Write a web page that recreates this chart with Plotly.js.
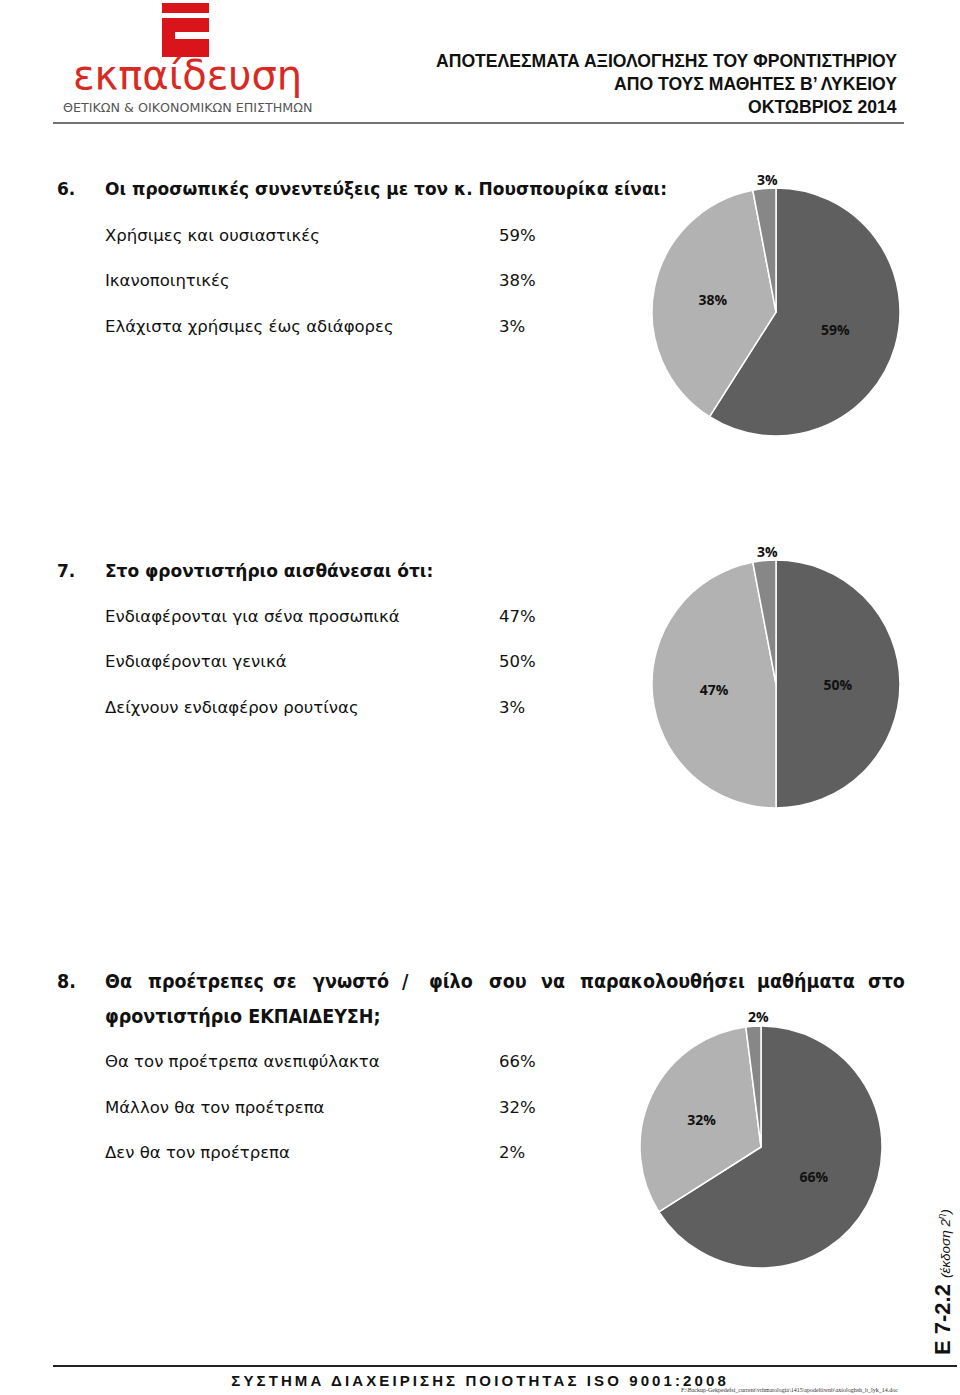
<!DOCTYPE html>
<html>
<head>
<meta charset="utf-8">
<script src="https://cdn.plot.ly/plotly-3.0.1.min.js"></script>
<style>html,body{margin:0;padding:0;background:#fff;}#chart{width:960px;height:1395px;}</style>
</head>
<body>
<div id="chart"></div>
<script>
// ---------- DATA ----------
const headerLines = ["ΑΠΟΤΕΛΕΣΜΑΤΑ ΑΞΙΟΛΟΓΗΣΗΣ ΤΟΥ ΦΡΟΝΤΙΣΤΗΡΙΟΥ", "ΑΠΟ ΤΟΥΣ ΜΑΘΗΤΕΣ Β’ ΛΥΚΕΙΟΥ", "ΟΚΤΩΒΡΙΟΣ 2014"];

const q6Title = "Οι προσωπικές συνεντεύξεις με τον κ. Πουσπουρίκα είναι:";
const q6Labels = ["Χρήσιμες και ουσιαστικές", "Ικανοποιητικές", "Ελάχιστα χρήσιμες έως αδιάφορες"];
const q6Values = [59, 38, 3];

const q7Title = "Στο φροντιστήριο αισθάνεσαι ότι:";
const q7Labels = ["Ενδιαφέρονται για σένα προσωπικά", "Ενδιαφέρονται γενικά", "Δείχνουν ενδιαφέρον ρουτίνας"];
const q7Values = [47, 50, 3];

const q8TitleWords = ["Θα", "προέτρεπες", "σε", "γνωστό", "/", "φίλο", "σου", "να", "παρακολουθήσει", "μαθήματα", "στο"];
const q8TitleLine2 = "φροντιστήριο ΕΚΠΑΙΔΕΥΣΗ;";
const q8Labels = ["Θα τον προέτρεπα ανεπιφύλακτα", "Μάλλον θα τον προέτρεπα", "Δεν θα τον προέτρεπα"];
const q8Values = [66, 32, 2];

// ---------- STYLE / LAYOUT HELPERS ----------
const W = 960, H = 1395;
const DARK = "#5f5f5f", LIGHT = "#b2b2b2", MID = "#878787";
const bodyFont = '"DejaVu Sans", Verdana, sans-serif';
const ann = [];
function txt(x, y, text, opts) {
  ann.push(Object.assign({x: x, y: y, xref: "x", yref: "y", text: text, showarrow: false,
    xanchor: "left", yanchor: "middle", font: {family: bodyFont, size: 16.5, color: "#111"}}, opts || {}));
}
function pieTrace(labels, values, colors, cx, cy, r) {
  return {
    type: "pie", labels: labels, values: values, sort: true, direction: "clockwise", rotation: 0,
    marker: {colors: colors, line: {color: "#fff", width: 1.5}},
    text: values.map(v => v + "%"), textinfo: "text",
    textposition: values.map(v => v >= 10 ? "inside" : "none"),
    insidetextorientation: "horizontal",
    textfont: {family: '"Open Sans", sans-serif', size: 14, color: "#111", weight: "bold"},
    hoverinfo: "label+percent",
    domain: {x: [(cx - r) / W, (cx + r) / W], y: [1 - (cy + r) / H, 1 - (cy - r) / H]},
    showlegend: false
  };
}
function smallLabel(values, x, y) {
  const v = Math.min.apply(null, values);
  txt(x, y, "<b>" + v + "%</b>", {xanchor: "center", font: {family: '"Open Sans", sans-serif', size: 14, color: "#111"}});
}

// ---------- HEADER ----------
headerLines.forEach((t, i) => txt(899, 61 + i * 23, "<b>" + t + "</b>",
  {xanchor: "right", font: {family: '"Liberation Sans", Arial, sans-serif', size: 17.6, color: "#111"}}));
txt(187, 75, "εκπαίδευση", {xanchor: "center", font: {family: bodyFont, size: 40, color: "#d82a22"}});
txt(187, 107, "ΘΕΤΙΚΩΝ &amp; ΟΙΚΟΝΟΜΙΚΩΝ ΕΠΙΣΤΗΜΩΝ", {xanchor: "center", font: {family: bodyFont, size: 12.7, color: "#555"}});

const shapes = [
  {type: "rect", xref: "x", yref: "y", x0: 162, x1: 209, y0: 3, y1: 13, fillcolor: "#d9141b", line: {width: 0}},
  {type: "rect", xref: "x", yref: "y", x0: 162, x1: 209, y0: 18, y1: 32, fillcolor: "#d9141b", line: {width: 0}},
  {type: "rect", xref: "x", yref: "y", x0: 162, x1: 175, y0: 31.5, y1: 39.5, fillcolor: "#d9141b", line: {width: 0}},
  {type: "rect", xref: "x", yref: "y", x0: 162, x1: 209, y0: 39, y1: 57, fillcolor: "#d9141b", line: {width: 0}},
  {type: "line", xref: "x", yref: "y", x0: 53, x1: 904, y0: 123, y1: 123, line: {color: "#444", width: 1.5}},
  {type: "line", xref: "x", yref: "y", x0: 53, x1: 957, y0: 1366, y1: 1366, line: {color: "#222", width: 2}}
];

// ---------- QUESTIONS ----------
const boldFont = {family: bodyFont, size: 17, color: "#111"};
function question(num, y, title, labels, values, rowY) {
  txt(55, y, "<b>" + num + "</b>", {font: boldFont});
  if (title) txt(103, y, "<b>" + title + "</b>", {font: boldFont});
  labels.forEach((l, i) => {
    txt(103, rowY[i], l);
    txt(497, rowY[i], values[i] + "%");
  });
}
question("6.", 189, q6Title, q6Labels, q6Values, [235, 280, 326]);
question("7.", 571, q7Title, q7Labels, q7Values, [616, 661, 707]);

const condFont = {family: '"Liberation Sans Narrow", "DejaVu Sans Condensed", "Arial Narrow", sans-serif', size: 19.5, color: "#111"};
txt(55, 981, "<b>8.</b>", {font: condFont});
const q8WordX = [103, 146, 271, 311, 400, 427, 487, 539, 578, 755, 866];
q8TitleWords.forEach((w, i) => txt(q8WordX[i], 981, "<b>" + w + "</b>", {font: condFont}));
txt(103, 1016, "<b>" + q8TitleLine2 + "</b>", {font: condFont});
q8Labels.forEach((l, i) => {
  const y = [1061, 1107, 1152][i];
  txt(103, y, l);
  txt(497, y, q8Values[i] + "%");
});

smallLabel(q6Values, 767, 179);
smallLabel(q7Values, 767, 551);
smallLabel(q8Values, 758, 1016);

// ---------- FOOTER ----------
txt(480, 1380, "<b>ΣΥΣΤΗΜΑ ΔΙΑΧΕΙΡΙΣΗΣ ΠΟΙΟΤΗΤΑΣ ISO 9001:2008</b>",
  {xanchor: "center", font: {family: '"Liberation Sans", Arial, sans-serif', size: 15, color: "#111"}});
txt(900, 1390, "F:\\Backup-Gekpedefsi_current\\vrhmatologia\\1415\\apodeltiwnb\\axiologhsh_b_lyk_14.doc",
  {xanchor: "right", font: {family: '"Liberation Serif", serif', size: 6, color: "#333"}});
txt(942, 1282, "<b>Ε 7-2.2</b> <i><span style=\"font-size:13.5px\">(έκδοση 2<sup>η</sup>)</span></i>",
  {xanchor: "center", textangle: -90, font: {family: '"Liberation Sans", Arial, sans-serif', size: 22, color: "#111"}});

// ---------- PIES ----------
const data = [
  pieTrace(q6Labels, q6Values, [DARK, LIGHT, MID], 776, 312, 124),
  pieTrace(q7Labels, q7Values, [LIGHT, DARK, MID], 776, 684, 124),
  pieTrace(q8Labels, q8Values, [DARK, LIGHT, MID], 761, 1147, 121)
];

const layout = {
  width: W, height: H, autosize: false,
  margin: {l: 0, r: 0, t: 0, b: 0, pad: 0},
  paper_bgcolor: "#fff", plot_bgcolor: "rgba(0,0,0,0)",
  xaxis: {range: [0, W], visible: false, fixedrange: true},
  yaxis: {range: [H, 0], visible: false, fixedrange: true},
  annotations: ann, shapes: shapes, showlegend: false
};

Plotly.newPlot("chart", data, layout, {staticPlot: true}).then(() => {
  document.querySelectorAll(".annotation-text").forEach(el => {
    if (el.textContent.indexOf("ΣΥΣΤΗΜΑ") === 0) el.style.letterSpacing = "3.1px";
  });
});
</script>
</body>
</html>
